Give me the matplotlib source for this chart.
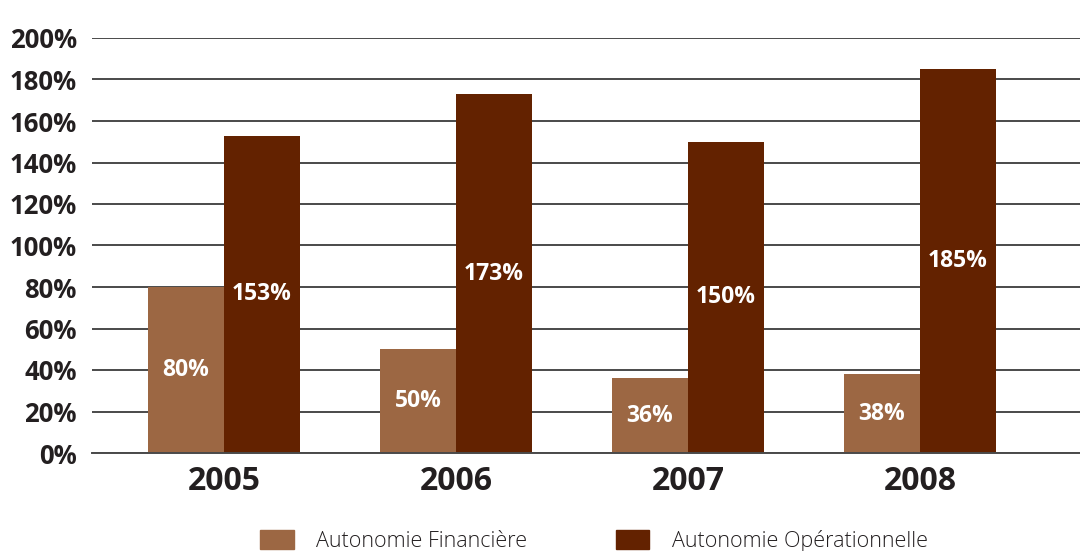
import matplotlib
matplotlib.use("Agg")
import matplotlib.pyplot as plt
import numpy as np
from matplotlib.patches import Patch

years = ["2005", "2006", "2007", "2008"]
financiere = [80, 50, 36, 38]
operationnelle = [153, 173, 150, 185]
series_names = ["Autonomie Financière", "Autonomie Opérationnelle"]
yticks = [0, 20, 40, 60, 80, 100, 120, 140, 160, 180, 200]

c_fin = "#9C6743"
c_op = "#632200"

plt.rcParams['font.family'] = ['Open Sans', 'DejaVu Sans']

fig = plt.figure(figsize=(10.8, 5.51), dpi=100)
ax = fig.add_axes([92/1080, 1 - 453/551, (1080-92)/1080, (453-38)/551])

x = np.arange(len(years))
w = 0.328
b1 = ax.bar(x - w/2, financiere, w, color=c_fin, zorder=3)
b2 = ax.bar(x + w/2, operationnelle, w, color=c_op, zorder=3)

for bars, vals in ((b1, financiere), (b2, operationnelle)):
    for r, v in zip(bars, vals):
        ax.text(r.get_x() + r.get_width()/2, v/2, f"{v}%", ha='center', va='center',
                color='white', fontsize=16.5, fontweight='bold', zorder=4)

ax.set_xlim(-0.569, 3.69)
ax.set_ylim(0, 200)
ax.set_yticks(yticks)
ax.set_yticklabels([f"{t}%" for t in yticks], fontsize=18.5, fontweight='bold', color='#231f20')
ax.set_xticks(x)
ax.set_xticklabels(years, fontsize=23, fontweight='bold', color='#231f20')
ax.tick_params(axis='y', length=0, pad=11)
ax.tick_params(axis='x', length=0, pad=9)
ax.yaxis.grid(True, color='#4a4a4a', linewidth=1.4, zorder=0)
ax.set_axisbelow(True)
for s in ax.spines.values():
    s.set_visible(False)
ax.axhline(0, color='#4a4a4a', linewidth=1.4, zorder=5, clip_on=False)

handles = [Patch(color=c_fin), Patch(color=c_op)]
fig.legend(handles, series_names, loc='lower left', bbox_to_anchor=(241/1080, -0.037),
           ncol=2, frameon=False, handlelength=1.55, handleheight=1.0,
           handletextpad=1.05, columnspacing=4.1,
           prop={'family': 'Open Sans', 'weight': 'light', 'size': 15.5})
for t in fig.legends[0].get_texts():
    t.set_color('#231f20')

fig.savefig("out.png", dpi=100)
